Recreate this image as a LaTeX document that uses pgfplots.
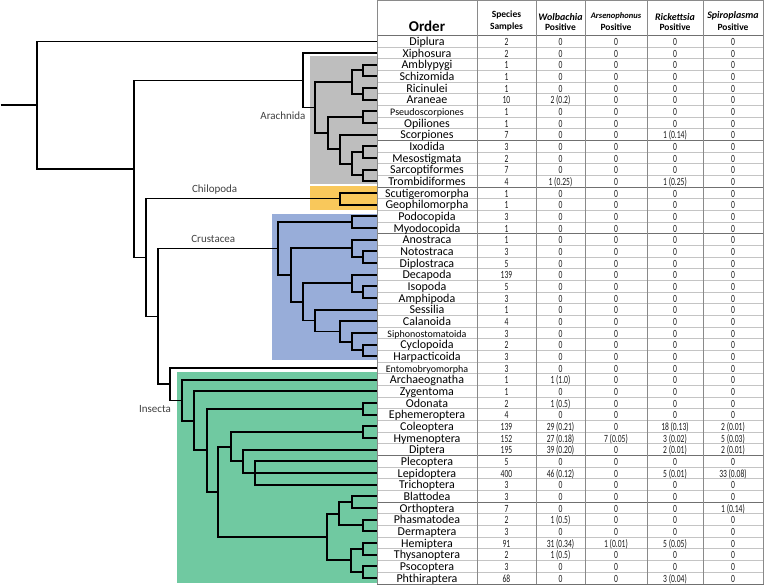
\documentclass[border=0pt]{standalone}
\usepackage{pgfplots}
\pgfplotsset{compat=1.18}
\usepackage{fontspec}
\setmainfont{Carlito}
\usepackage{graphicx}
\definecolor{arach}{HTML}{BEBEBE}
\definecolor{chilo}{HTML}{F9C85B}
\definecolor{crust}{HTML}{98ADD9}
\definecolor{insec}{HTML}{70C9A1}
\definecolor{vline}{HTML}{8A8A8A}
\definecolor{rline}{HTML}{C4C4C4}
\definecolor{dline}{HTML}{707070}
\protected\def\sname{\fontsize{10}{10}\selectfont}
\protected\def\nsc#1{\scalebox{0.69}[1]{#1}}
\tikzset{
  brthin/.style={black,line width=1.3pt,line join=miter},
  brthick/.style={black,line width=1.9pt,line join=miter},
  namec/.style={anchor=base,inner sep=0pt,text=black,font=\fontsize{12}{12}\selectfont},
  numc/.style={anchor=base,inner sep=0pt,text=black!90,font=\fontsize{11}{11}\selectfont},
  hdr/.style={inner sep=0pt,font=\fontsize{9.5}{9.5}\selectfont\bfseries},
  hdri/.style={inner sep=0pt,font=\fontsize{10}{10}\selectfont\bfseries\itshape},
  grp/.style={inner sep=0pt,text=black!75,font=\fontsize{11}{11}\selectfont}}
\begin{document}
\begin{tikzpicture}
\begin{axis}[width=764pt,height=586pt,scale only axis,
  xmin=0,xmax=764,ymin=0,ymax=586,y dir=reverse,hide axis,clip=false]
% clade boxes
\addplot[fill=arach,draw=none] coordinates {(310,56) (377,56) (377,183.3) (310,183.3)} -- cycle;
\addplot[fill=chilo,draw=none] coordinates {(310,186) (377,186) (377,209.3) (310,209.3)} -- cycle;
\addplot[fill=crust,draw=none] coordinates {(271.7,213.3) (377,213.3) (377,360) (271.7,360)} -- cycle;
\addplot[fill=insec,draw=none] coordinates {(177.3,371.7) (377,371.7) (377,582.7) (177.3,582.7)} -- cycle;
% table grid
\foreach \k in {1,...,46}{
  \pgfmathsetmacro\yy{35+11.667*\k}
  \edef\tmp{\noexpand\draw[rline,line width=0.6pt] (axis cs:377,\yy) -- (axis cs:763.5,\yy);}
  \tmp}
\foreach \k in {9,13,17,36,40}{
  \pgfmathsetmacro\yy{35+11.667*\k}
  \edef\tmp{\noexpand\draw[dline,line width=0.9pt] (axis cs:377,\yy) -- (axis cs:763.5,\yy);}
  \tmp}
\draw[dline,line width=1pt] (axis cs:377,35) -- (axis cs:763.5,35);
\draw[dline,line width=0.8pt] (axis cs:377,583.5) -- (axis cs:763.5,583.5);
\draw[vline,line width=0.8pt] (axis cs:377,0.4) -- (axis cs:763.5,0.4);
\foreach \xx in {377,477,536,585,647,703,763.5}{
  \edef\tmp{\noexpand\draw[vline,line width=0.8pt] (axis cs:\xx,0) -- (axis cs:\xx,583.5);}
  \tmp}
% tree: outer (thin) branches
\addplot[brthin,no markers] coordinates {(0.7,104.66) (37,104.66)};
\addplot[brthin,no markers] coordinates {(377,40.83) (37,40.83) (37,168.49) (134,168.49)};
\addplot[brthin,no markers] coordinates {(303,79.85) (134,79.85) (134,257.12) (146,257.12)};
\addplot[brthin,no markers] coordinates {(377,52.5) (303,52.5) (303,107.19) (315,107.19)};
\addplot[brthin,no markers] coordinates {(340,198.33) (146,198.33) (146,315.91) (158,315.91)};
\addplot[brthin,no markers] coordinates {(278.3,248.19) (158,248.19) (158,383.63) (170,383.63)};
\addplot[brthin,no markers] coordinates {(377,367.5) (170,367.5) (170,399.77) (182,399.77)};
% Arachnida
\addplot[brthick,no markers] coordinates {(377,64.17) (363,64.17) (363,75.83) (377,75.83)};
\addplot[brthick,no markers] coordinates {(377,87.5) (363,87.5) (363,99.17) (377,99.17)};
\addplot[brthick,no markers] coordinates {(363,70) (352,70) (352,93.33) (363,93.33)};
\addplot[brthick,no markers] coordinates {(377,110.83) (363,110.83) (363,122.5) (377,122.5)};
\addplot[brthick,no markers] coordinates {(377,145.83) (363,145.83) (363,157.5) (377,157.5)};
\addplot[brthick,no markers] coordinates {(377,169.17) (363,169.17) (363,180.83) (377,180.83)};
\addplot[brthick,no markers] coordinates {(363,151.67) (352,151.67) (352,175) (363,175)};
\addplot[brthick,no markers] coordinates {(377,134.17) (340,134.17) (340,163.33) (352,163.33)};
\addplot[brthick,no markers] coordinates {(363,116.67) (328,116.67) (328,148.75) (340,148.75)};
\addplot[brthick,no markers] coordinates {(352,81.67) (315,81.67) (315,132.71) (328,132.71)};
% Chilopoda
\addplot[brthick,no markers] coordinates {(377,192.5) (340,192.5) (340,204.17) (377,204.17)};
% Crustacea
\addplot[brthick,no markers] coordinates {(377,215.83) (352,215.83) (352,227.5) (377,227.5)};
\addplot[brthick,no markers] coordinates {(377,250.83) (363,250.83) (363,262.5) (377,262.5)};
\addplot[brthick,no markers] coordinates {(377,239.17) (352,239.17) (352,256.67) (363,256.67)};
\addplot[brthick,no markers] coordinates {(377,285.83) (363,285.83) (363,297.5) (377,297.5)};
\addplot[brthick,no markers] coordinates {(377,274.17) (352,274.17) (352,291.67) (363,291.67)};
\addplot[brthick,no markers] coordinates {(377,344.17) (363,344.17) (363,355.83) (377,355.83)};
\addplot[brthick,no markers] coordinates {(377,332.5) (352,332.5) (352,350) (363,350)};
\addplot[brthick,no markers] coordinates {(377,320.83) (340,320.83) (340,341.25) (352,341.25)};
\addplot[brthick,no markers] coordinates {(377,309.17) (315,309.17) (315,331.04) (340,331.04)};
\addplot[brthick,no markers] coordinates {(352,282.92) (303,282.92) (303,320.1) (315,320.1)};
\addplot[brthick,no markers] coordinates {(352,247.92) (291,247.92) (291,301.51) (303,301.51)};
\addplot[brthick,no markers] coordinates {(352,221.67) (278.3,221.67) (278.3,274.71) (291,274.71)};
% Insecta
\addplot[brthick,no markers] coordinates {(377,402.5) (363,402.5) (363,414.17) (377,414.17)};
\addplot[brthick,no markers] coordinates {(377,425.83) (363,425.83) (363,437.5) (377,437.5)};
\addplot[brthick,no markers] coordinates {(377,460.83) (255,460.83) (255,484.17) (377,484.17)};
\addplot[brthick,no markers] coordinates {(243,472.5) (377,472.5)};
\addplot[brthick,no markers] coordinates {(377,449.17) (243,449.17) (243,472.5) (255,472.5)};
\addplot[brthick,no markers] coordinates {(363,431.67) (231,431.67) (231,460.83) (243,460.83)};
\addplot[brthick,no markers] coordinates {(377,495.83) (352,495.83) (352,507.5) (377,507.5)};
\addplot[brthick,no markers] coordinates {(377,519.17) (363,519.17) (363,530.83) (377,530.83)};
\addplot[brthick,no markers] coordinates {(352,501.67) (339,501.67) (339,525) (363,525)};
\addplot[brthick,no markers] coordinates {(377,542.5) (363,542.5) (363,554.17) (377,554.17)};
\addplot[brthick,no markers] coordinates {(377,565.83) (363,565.83) (363,577.5) (377,577.5)};
\addplot[brthick,no markers] coordinates {(363,548.33) (351,548.33) (351,571.67) (363,571.67)};
\addplot[brthick,no markers] coordinates {(339,513.33) (327,513.33) (327,560) (351,560)};
\addplot[brthick,no markers] coordinates {(231,446.25) (218,446.25) (218,536.67) (327,536.67)};
\addplot[brthick,no markers] coordinates {(363,408.33) (207,408.33) (207,491.46) (218,491.46)};
\addplot[brthick,no markers] coordinates {(377,390.83) (194,390.83) (194,449.9) (207,449.9)};
\addplot[brthick,no markers] coordinates {(377,379.17) (182,379.17) (182,420.36) (194,420.36)};
% group labels
\node[grp] at (axis cs:283,115.7) {Arachnida};
\node[grp] at (axis cs:214.7,189.3) {Chilopoda};
\node[grp] at (axis cs:213.3,238.3) {Crustacea};
\node[grp] at (axis cs:155,408.3) {Insecta};
% header
\node[inner sep=0pt,font=\fontsize{15}{15}\selectfont\bfseries] at (axis cs:427,25.5) {Order};
\node[hdr] at (axis cs:506.5,15) {Species};
\node[hdr] at (axis cs:506.5,26.5) {Samples};
\node[hdri] at (axis cs:560.5,16.5) {Wolbachia};
\node[hdr] at (axis cs:560.5,27) {Positive};
\node[inner sep=0pt,font=\fontsize{8.5}{8.5}\selectfont\bfseries\itshape] at (axis cs:616,15.5) {Arsenophonus};
\node[hdr] at (axis cs:616,27) {Positive};
\node[hdri] at (axis cs:675,16.5) {Rickettsia};
\node[hdr] at (axis cs:675,27) {Positive};
\node[hdri] at (axis cs:733,15.5) {Spiroplasma};
\node[hdr] at (axis cs:733,27) {Positive};
% table body
\foreach \xn/\xs/\xw/\xa/\xr/\xp [count=\i from 0] in {
Diplura/2/0/0/0/0, Xiphosura/2/0/0/0/0, Amblypygi/1/0/0/0/0, Schizomida/1/0/0/0/0,
Ricinulei/1/0/0/0/0, Araneae/10/2 (0.2)/0/0/0, {\sname Pseudoscorpiones}/1/0/0/0/0,
Opiliones/1/0/0/0/0, Scorpiones/7/0/0/1 (0.14)/0, Ixodida/3/0/0/0/0,
Mesostigmata/2/0/0/0/0, Sarcoptiformes/7/0/0/0/0, Trombidiformes/4/1 (0.25)/0/1 (0.25)/0,
Scutigeromorpha/1/0/0/0/0, Geophilomorpha/1/0/0/0/0, Podocopida/3/0/0/0/0,
Myodocopida/1/0/0/0/0, Anostraca/1/0/0/0/0, Notostraca/3/0/0/0/0, Diplostraca/5/0/0/0/0,
Decapoda/139/0/0/0/0, Isopoda/5/0/0/0/0, Amphipoda/3/0/0/0/0, Sessilia/1/0/0/0/0,
Calanoida/4/0/0/0/0, {\sname Siphonostomatoida}/3/0/0/0/0, Cyclopoida/2/0/0/0/0,
Harpacticoida/3/0/0/0/0, {\sname Entomobryomorpha}/3/0/0/0/0, Archaeognatha/1/1 (1.0)/0/0/0,
Zygentoma/1/0/0/0/0, Odonata/2/1 (0.5)/0/0/0, Ephemeroptera/4/0/0/0/0,
Coleoptera/139/29 (0.21)/0/18 (0.13)/2 (0.01), Hymenoptera/152/27 (0.18)/7 (0.05)/3 (0.02)/5 (0.03),
Diptera/195/39 (0.20)/0/2 (0.01)/2 (0.01), Plecoptera/5/0/0/0/0,
Lepidoptera/400/46 (0.12)/0/5 (0.01)/33 (0.08), Trichoptera/3/0/0/0/0, Blattodea/3/0/0/0/0,
Orthoptera/7/0/0/0/1 (0.14), Phasmatodea/2/1 (0.5)/0/0/0, Dermaptera/3/0/0/0/0,
Hemiptera/91/31 (0.34)/1 (0.01)/5 (0.05)/0, Thysanoptera/2/1 (0.5)/0/0/0,
Psocoptera/3/0/0/0/0, Phthiraptera/68/0/0/3 (0.04)/0}{
  \pgfmathsetmacro\yy{40.83+11.667*\i+4.1}
  \pgfmathsetmacro\yn{40.83+11.667*\i+4.2}
  \edef\tmp{\noexpand\node[namec] at (axis cs:427,\yn) {\xn};
    \noexpand\node[numc] at (axis cs:506.5,\yy) {\noexpand\nsc{\xs}};
    \noexpand\node[numc] at (axis cs:560.5,\yy) {\noexpand\nsc{\xw}};
    \noexpand\node[numc] at (axis cs:616,\yy) {\noexpand\nsc{\xa}};
    \noexpand\node[numc] at (axis cs:675,\yy) {\noexpand\nsc{\xr}};
    \noexpand\node[numc] at (axis cs:733,\yy) {\noexpand\nsc{\xp}};}
  \tmp}
\end{axis}
\end{tikzpicture}
\end{document}
